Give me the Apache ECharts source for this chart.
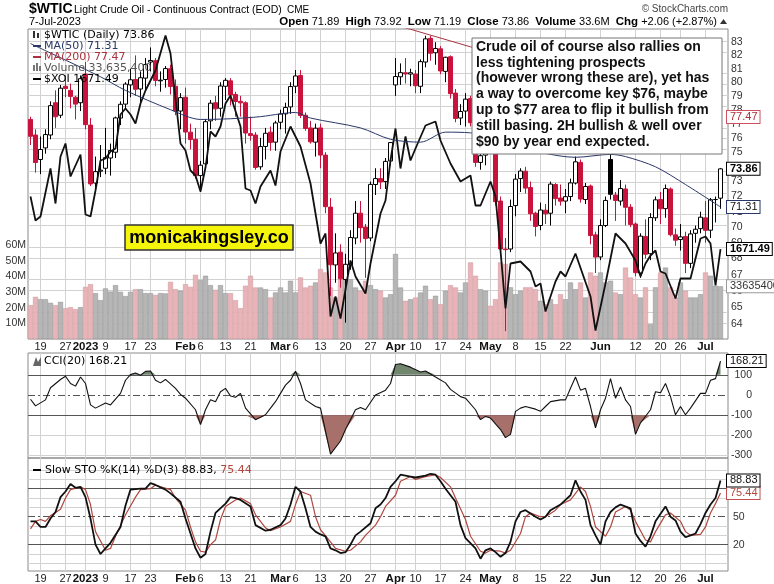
<!DOCTYPE html>
<html><head><meta charset="utf-8">
<script src="https://cdn.jsdelivr.net/npm/echarts/dist/echarts.min.js"></script>
<style>html,body{margin:0;padding:0;background:#fff}#c{width:774px;height:584px}</style>
</head><body><div id="c"></div>
<script>
// ---------------- DATA ----------------
const dates = [
'2022-12-15','2022-12-16','2022-12-19','2022-12-20','2022-12-21','2022-12-22','2022-12-23','2022-12-27','2022-12-28','2022-12-29','2022-12-30',
'2023-01-03','2023-01-04','2023-01-05','2023-01-06','2023-01-09','2023-01-10','2023-01-11','2023-01-12','2023-01-13','2023-01-17','2023-01-18','2023-01-19','2023-01-20','2023-01-23','2023-01-24','2023-01-25','2023-01-26','2023-01-27','2023-01-30','2023-01-31',
'2023-02-01','2023-02-02','2023-02-03','2023-02-06','2023-02-07','2023-02-08','2023-02-09','2023-02-10','2023-02-13','2023-02-14','2023-02-15','2023-02-16','2023-02-17','2023-02-21','2023-02-22','2023-02-23','2023-02-24','2023-02-27','2023-02-28',
'2023-03-01','2023-03-02','2023-03-03','2023-03-06','2023-03-07','2023-03-08','2023-03-09','2023-03-10','2023-03-13','2023-03-14','2023-03-15','2023-03-16','2023-03-17','2023-03-20','2023-03-21','2023-03-22','2023-03-23','2023-03-24','2023-03-27','2023-03-28','2023-03-29','2023-03-30','2023-03-31',
'2023-04-03','2023-04-04','2023-04-05','2023-04-06','2023-04-10','2023-04-11','2023-04-12','2023-04-13','2023-04-14','2023-04-17','2023-04-18','2023-04-19','2023-04-20','2023-04-21','2023-04-24','2023-04-25','2023-04-26','2023-04-27','2023-04-28',
'2023-05-01','2023-05-02','2023-05-03','2023-05-04','2023-05-05','2023-05-08','2023-05-09','2023-05-10','2023-05-11','2023-05-12','2023-05-15','2023-05-16','2023-05-17','2023-05-18','2023-05-19','2023-05-22','2023-05-23','2023-05-24','2023-05-25','2023-05-26','2023-05-30','2023-05-31',
'2023-06-01','2023-06-02','2023-06-05','2023-06-06','2023-06-07','2023-06-08','2023-06-09','2023-06-12','2023-06-13','2023-06-14','2023-06-15','2023-06-16','2023-06-20','2023-06-21','2023-06-22','2023-06-23','2023-06-26','2023-06-27','2023-06-28','2023-06-29','2023-06-30',
'2023-07-03','2023-07-05','2023-07-06','2023-07-07'];

const prevClose0 = 77.28;
const open = [77.3,76.2,74.5,75.3,76.2,78.5,77.6,79.7,79.4,78.9,78.5,
80.6,76.9,72.9,73.7,73.9,74.6,75.0,77.4,78.4,79.8,80.2,79.5,80.3,81.5,81.6,80.1,80.2,81.0,79.7,77.9,
78.9,76.4,75.9,73.4,74.2,77.2,78.5,78.1,79.7,80.1,79.1,78.6,78.5,76.3,76.2,74.0,75.4,76.4,75.7,
77.1,77.7,78.2,79.7,80.5,77.6,76.7,75.7,76.7,74.8,71.3,67.6,68.4,66.7,67.6,69.3,70.9,70.0,69.3,72.8,73.2,73.0,74.4,
79.8,80.4,80.7,80.6,80.6,79.7,81.5,83.3,82.2,82.5,80.8,81.9,79.2,77.4,77.9,78.8,77.1,74.3,74.8,
76.8,75.7,71.7,68.6,68.6,71.4,73.2,73.7,72.6,70.9,70.1,71.1,70.9,72.8,71.9,71.7,72.0,72.9,74.3,71.8,72.7,69.5,
68.1,70.1,74.5,72.1,71.7,72.5,71.3,70.2,67.1,69.4,68.3,70.6,71.8,71.2,72.5,69.5,69.2,69.4,67.7,69.6,69.9,
70.6,69.8,71.8,71.89];
const high = [77.5,76.6,76.1,76.6,78.6,79.4,79.8,80.5,79.9,79.0,80.5,
81.5,77.4,74.7,75.5,76.7,75.6,77.5,78.6,80.0,81.0,82.0,80.8,81.8,82.6,81.8,80.8,81.2,81.3,80.2,79.2,
79.6,77.0,76.7,74.4,77.3,78.7,79.0,80.0,80.3,80.3,79.3,79.0,78.6,77.5,76.4,76.0,76.7,76.8,77.2,
78.0,78.5,80.0,80.9,80.9,77.8,77.2,77.0,77.0,75.0,71.9,69.6,68.9,68.3,69.8,71.7,71.7,70.2,73.0,73.9,73.9,74.6,75.7,
81.8,81.4,81.8,81.0,80.9,81.7,83.5,83.5,83.0,82.7,81.9,82.0,79.5,78.4,79.2,79.0,77.3,75.5,77.0,
77.4,76.0,72.0,69.3,71.8,73.5,73.9,74.0,73.0,71.0,71.6,71.5,73.0,72.9,72.8,72.5,73.2,74.7,74.5,72.9,72.8,69.7,
70.5,72.0,74.9,72.3,73.1,72.8,71.5,70.3,69.6,70.5,70.9,72.0,72.3,72.8,72.6,69.9,70.2,69.7,69.8,70.1,71.0,
71.7,71.9,72.0,73.92];
const low = [75.5,73.6,73.5,74.9,75.9,76.7,77.4,78.9,78.1,77.3,77.9,
76.6,72.7,72.5,73.3,73.5,73.4,74.6,76.9,78.0,78.9,79.0,78.5,79.5,80.8,79.7,79.3,79.6,79.1,77.6,76.6,
75.6,75.2,73.2,72.3,73.8,76.6,77.2,77.5,78.7,78.3,77.5,77.5,75.6,75.8,73.8,73.8,74.5,75.1,75.1,
76.6,76.3,77.7,79.2,77.4,76.5,75.6,74.7,73.9,70.9,65.7,66.5,66.2,64.1,67.3,68.9,69.0,66.8,69.1,72.1,72.5,72.5,74.1,
79.0,79.8,79.9,79.7,79.2,79.2,81.1,81.6,81.3,80.6,80.0,78.8,77.1,76.9,76.8,76.8,74.0,73.8,74.1,
75.3,71.4,68.2,63.6,68.4,70.7,72.3,72.2,70.4,69.4,69.8,70.2,70.1,71.4,71.4,70.9,71.7,72.8,71.6,71.5,68.9,67.1,
67.9,70.0,71.8,70.4,71.4,70.1,70.0,66.9,66.8,68.0,67.9,70.4,70.2,70.6,69.4,68.8,68.5,67.1,67.4,69.0,69.6,
69.0,69.3,70.3,71.19];
const close = [76.11,74.29,75.19,76.23,78.29,77.49,79.56,79.53,78.96,78.40,80.26,
76.93,72.84,73.67,73.77,74.63,75.12,77.41,78.39,79.86,80.18,79.48,80.33,81.31,81.62,80.13,80.15,81.01,79.68,77.90,78.87,
76.41,75.88,73.39,74.11,77.14,78.47,78.06,79.72,80.14,79.06,78.59,78.49,76.34,76.16,73.95,75.39,76.32,75.68,77.05,
77.69,78.16,79.68,80.46,77.58,76.66,75.72,76.68,74.80,71.33,67.61,68.35,66.74,67.64,69.33,70.90,69.96,69.26,72.81,73.20,72.97,74.37,75.67,
80.42,80.71,80.61,80.70,79.74,81.53,83.26,82.16,82.52,80.83,81.86,79.16,77.37,77.87,78.76,77.07,74.30,74.76,76.78,
75.66,71.66,68.60,68.56,71.34,73.16,73.71,72.56,70.87,70.04,71.11,70.86,72.83,71.86,71.69,71.99,72.91,74.34,71.83,72.67,69.46,68.09,
70.10,71.74,72.15,71.74,72.53,71.29,70.17,67.12,69.42,68.27,70.62,71.78,71.19,72.53,69.51,69.16,69.37,67.70,69.56,69.86,70.64,
69.79,71.79,71.80,73.86];
// volume in millions
const volume = [21.6,26.9,25.4,25.4,23.1,21.6,23.7,19.7,20.3,19.0,20.3,
33.3,35.0,29.3,24.8,32.3,30.3,34.4,30.1,27.4,30.1,31.8,31.8,29.3,29.3,28.2,29.3,29.1,36.5,31.8,30.8,
35.0,33.3,41.0,37.6,40.4,34.4,31.4,34.4,29.3,29.3,24.8,19.7,34.0,40.4,32.9,32.9,31.8,26.5,29.7,
32.9,29.7,37.2,29.7,39.3,32.9,34.0,36.1,44.7,42.5,32.9,26.5,38.2,39.3,38.2,32.9,30.8,37.2,34.4,31.8,30.8,26.5,28.6,
54.3,32.9,24.4,25.4,26.5,29.7,34.0,25.4,27.6,22.2,30.8,34.4,32.9,29.7,36.1,48.9,40.4,31.8,30.8,
21.2,25.4,48.9,47.9,33.0,28.6,30.8,33.0,33.0,31.8,24.4,22.2,25.4,22.2,28.6,25.4,36.1,31.8,36.1,26.5,42.5,40.4,
42.5,36.1,37.2,29.7,28.6,45.6,39.3,28.6,26.5,33.0,9.4,33.0,42.5,45.6,33.0,26.5,36.1,30.8,26.5,26.5,28.6,
42.5,40.4,34.0,33.6354];

// overlays (bar index, value)
const ma50Idx = [0,5,14,19,28,34,40,46,50,53,56,66,72,78,83,88,102,109,116,119,125,131,138];
const ma50Val = [82.9,82.0,80.4,79.4,78.0,77.3,77.35,77.5,77.7,77.8,77.4,76.7,75.9,75.7,76.4,76.35,75.0,74.65,74.85,74.7,74.0,72.8,71.31];
const ma200Idx = [70,76,88,138];
const ma200Val = [84.6,84.0,82.65,77.47];
const xoiIdx = [0,1,2,4,5,6,7,8,10,11,12,13,14,15,16,17,18,19,20,21,22,23,25,27,28,30,31,32,33,34,35,36,37,38,39,40,42,43,44,45,46,48,49,50,52,54,56,58,59,60,61,62,64,65,67,68,70,71,72,73,74,75,76,77,79,81,82,84,86,88,89,90,92,93,94,95,96,98,100,101,102,103,105,106,107,109,112,113,115,117,119,121,122,123,124,125,126,127,129,130,132,134,135,136,137,138];
const xoiVal = [1724,1700,1704,1752,1717,1764,1777,1744,1766,1706,1704,1730,1760,1762,1769,1772,1806,1812,1806,1797,1817,1830,1850,1885,1867,1777,1770,1750,1745,1729,1753,1789,1784,1794,1817,1825,1794,1732,1730,1717,1734,1750,1735,1769,1794,1774,1737,1677,1687,1604,1624,1602,1660,1644,1627,1657,1707,1720,1760,1792,1752,1784,1760,1772,1795,1799,1780,1757,1739,1745,1715,1715,1739,1724,1670,1612,1657,1659,1649,1634,1637,1609,1639,1649,1644,1667,1624,1590,1637,1687,1677,1660,1644,1657,1665,1670,1649,1647,1622,1642,1642,1682,1684,1677,1635,1671.49];
const cciIdx = [0,1,3,4,6,7,8,9,10,11,12,13,15,16,18,19,20,21,22,23,24,25,26,27,29,30,31,33,34,35,36,37,38,39,40,41,42,43,45,47,48,49,50,51,52,53,54,55,57,58,60,62,63,65,66,67,69,71,72,73,74,76,78,79,81,83,84,86,87,89,90,91,92,94,95,96,97,98,99,101,102,103,104,106,107,108,109,110,111,112,113,114,115,116,117,118,119,120,121,122,124,125,126,127,128,129,130,131,132,134,135,136,137,138];
const cciVal = [-21,-54,-24,36,77,93,57,44,89,57,-49,-65,-40,-49,8,73,101,109,98,117,119,73,60,77,33,3,-16,-73,-146,-73,-24,-33,16,33,-5,-11,8,-65,-122,-98,-65,-33,8,49,73,118,57,-24,-57,-65,-293,-228,-171,-73,-62,-73,0,24,57,151,155,138,114,119,89,60,28,-8,-16,-73,-122,-106,-114,-171,-211,-195,-81,-65,-57,-70,-81,-57,-33,-24,-24,33,89,24,33,-57,-163,-73,-16,81,-16,40,-24,-57,-195,-138,-73,16,11,57,-8,-98,-57,-98,-65,8,8,73,81,168.21];
const stoKIdx = [0,1,2,3,4,5,6,7,8,9,10,11,12,13,14,15,16,18,19,20,22,23,24,25,27,28,30,31,32,33,34,35,36,37,39,40,41,42,44,45,47,48,50,51,52,53,54,55,56,57,58,59,60,61,62,63,64,65,66,68,69,70,71,72,73,74,76,77,79,80,81,82,83,85,86,87,89,90,91,92,93,94,95,96,97,98,99,101,102,103,104,106,107,108,109,110,111,112,113,114,115,116,117,118,120,121,122,123,124,125,127,128,129,130,131,132,133,134,135,136,137,138];
const stoKVal = [45,45,39,39,48,55,71,77,85,81,82,71,48,20,10,16,22,39,62,79,80,80,86,84,79,75,66,48,32,16,6,10,34,54,64,71,70,68,61,41,35,36,41,48,63,82,77,59,39,34,31,29,16,14,11,12,20,30,34,43,59,63,70,82,88,95,93,92,94,96,95,88,80,66,41,27,16,5,14,16,12,7,11,23,45,55,57,50,47,50,57,63,68,73,89,77,68,41,30,20,45,55,60,63,59,32,24,18,29,45,61,50,46,34,28,30,32,42,54,63,70,88.83];
const stoDIdx = [0,1,2,3,4,6,7,8,10,11,12,13,15,16,17,19,21,22,24,25,26,28,29,31,32,33,34,35,36,37,38,39,41,42,44,45,47,48,50,52,53,54,56,57,58,60,61,63,64,66,67,69,70,71,73,74,76,77,79,81,82,84,85,87,88,90,91,92,94,95,96,98,99,100,102,103,105,106,108,109,110,111,112,113,115,116,117,119,120,121,123,124,125,127,128,130,131,132,134,135,136,137,138];
const stoDVal = [37,45,47,45,51,58,70,79,82,79,63,34,14,16,29,52,71,79,80,84,82,79,70,57,39,23,13,12,20,25,47,61,68,70,64,52,38,35,39,45,63,77,73,50,36,23,16,13,14,23,30,41,50,61,73,88,93,90,93,95,92,82,70,47,29,13,11,14,13,11,14,32,50,54,50,50,57,63,68,75,82,77,61,39,29,39,55,61,57,45,25,23,34,52,54,45,34,30,31,39,54,64,75.44];

// axis ticks
const priceTicks = [64,65,66,67,68,69,70,71,72,73,74,75,76,77,78,79,80,81,82,83];
const volTicks = [10,20,30,40,50,60];
const cciTicks = [100,0,-100,-200,-300];
const stoTicks = [20,50,80];
const tickDates = ['2022-12-19','2022-12-27','2023-01-03','2023-01-09','2023-01-17','2023-01-23','2023-02-01','2023-02-06','2023-02-13','2023-02-21','2023-03-01','2023-03-06','2023-03-13','2023-03-20','2023-03-27','2023-04-03','2023-04-10','2023-04-17','2023-04-24','2023-05-01','2023-05-08','2023-05-15','2023-05-22','2023-06-01','2023-06-12','2023-06-20','2023-06-26','2023-07-03'];
const tickTexts = ['19','27','2023','9','17','23','Feb','6','13','21','Mar','6','13','20','27','Apr','10','17','24','May','8','15','22','Jun','12','20','26','Jul'];
const boldTicks = ['2023','Feb','Mar','Apr','May','Jun','Jul'];

const noteText = 'Crude oil of course also rallies on\nless tightening prospects\n(however wrong these are), yet has\na way to overcome key $76, maybe\nup to $77 area to flip it bullish from\nstill basing. 2H bullish & well over\n$90 by year end expected.';

// ---------------- BUILD ----------------
const N = dates.length;
const last = dates[N - 1];
const cats = dates.concat(['']);
const RED = '#c8143c', BLK = '#000';
const PINK = '#e8b4b8', PINKB = '#cf959b', GRAY = '#b6b6b6', GRAYB = '#8f8f8f';
const NAVY = '#2a3768', MAROON = '#a8323e', DRED = '#b0483f';
const FUI = '"DejaVu Sans", Verdana, sans-serif';
const FAX = '"Liberation Sans", Arial, sans-serif';
const L = Math.log;
const pairs = (idx, val, f) => idx.map((x, k) => [x, f ? f(val[k]) : val[k]]);

const candleData = dates.map((d, i) => {
  const prev = i > 0 ? close[i - 1] : prevClose0;
  const col = close[i] < prev ? RED : BLK;
  const fill = close[i] >= open[i] ? '#fff' : col;
  return { value: [L(open[i]), L(close[i]), L(low[i]), L(high[i])],
    itemStyle: { color: fill, color0: fill, borderColor: col, borderColor0: col, borderWidth: 1 } };
});
const volData = volume.map((v, i) => {
  const prev = i > 0 ? close[i - 1] : prevClose0;
  const dn = close[i] < prev;
  return { value: v * 1e6, itemStyle: { color: dn ? PINK : GRAY, borderColor: dn ? PINKB : GRAYB, borderWidth: 0.5 } };
});

function mkX(gi, show) {
  return { type: 'category', gridIndex: gi, data: cats, boundaryGap: true,
    axisLine: { show: false }, axisTick: { show: false }, splitLine: { show: false },
    axisLabel: { show: show, interval: (i, v) => tickDates.indexOf(v) >= 0, margin: 2, hideOverlap: false,
      fontSize: 11, fontFamily: FAX, color: '#222',
      formatter: v => { const t = tickTexts[tickDates.indexOf(v)]; return boldTicks.indexOf(t) >= 0 ? '{b|' + t + '}' : t; },
      rich: { b: { fontWeight: 'bold', fontSize: 11.5, fontFamily: FAX, color: '#111' } } } };
}
const axLbl = { fontSize: 10.5, fontFamily: FAX, color: '#333' };

function tag(yv, text, border, color, bold) {
  return { coord: [last, yv], symbol: 'circle', symbolSize: 1, itemStyle: { color: 'transparent' },
    label: { show: true, position: 'right', distance: 6, formatter: text, color: color, fontWeight: bold ? 'bold' : 'normal',
      fontSize: 11, fontFamily: FAX, backgroundColor: '#fff', borderColor: border, borderWidth: 1, padding: [1, 2, 0, 3] } };
}
const gridLine = { color: '#d2d2d2', width: 1, type: 'solid' };
const darkLine = { color: '#555', width: 1, type: 'solid' };
const dashDot = { color: '#555', width: 1, type: [7, 3, 2, 3] };
const vLines = () => tickDates.map(d => ({ xAxis: d }));
const mlBase = { z: 1, silent: true, symbol: ['none', 'none'], label: { show: false }, lineStyle: gridLine, animation: false };

const gridBase = { show: true, borderColor: '#8a8a8a', borderWidth: 1, containLabel: false, outerBoundsMode: 'none' };

const option = {
  animation: false,
  backgroundColor: '#fff',
  grid: [
    Object.assign({ left: 28, top: 29, width: 700, height: 310 }, gridBase),
    Object.assign({ left: 28, top: 353, width: 700, height: 105 }, gridBase),
    Object.assign({ left: 28, top: 458, width: 700, height: 113 }, gridBase)
  ],
  xAxis: [mkX(0, true), mkX(1, false), mkX(2, true)],
  yAxis: [
    { type: 'value', gridIndex: 0, position: 'right', min: L(63.14), max: L(84.02), scale: true,
      axisLine: { show: false }, axisTick: { show: false }, splitLine: { show: false },
      axisLabel: Object.assign({ customValues: priceTicks.map(L), margin: 3, formatter: v => String(Math.round(Math.exp(v))) }, axLbl) },
    { type: 'value', gridIndex: 0, position: 'left', min: 0, max: 198e6,
      axisLine: { show: false }, axisTick: { show: false }, splitLine: { show: false },
      axisLabel: Object.assign({ customValues: volTicks.map(v => v * 1e6), margin: 2, formatter: v => Math.round(v / 1e6) + 'M' }, axLbl) },
    { type: 'value', gridIndex: 0, show: false, min: 1581.5, max: 1891.5, splitLine: { show: false } },
    { type: 'value', gridIndex: 1, position: 'right', min: -312, max: 208,
      axisLine: { show: false }, axisTick: { show: false }, splitLine: { show: false },
      axisLabel: Object.assign({ customValues: cciTicks, margin: 24, align: 'right' }, axLbl) },
    { type: 'value', gridIndex: 2, position: 'right', min: -8.2, max: 112.9,
      axisLine: { show: false }, axisTick: { show: false }, splitLine: { show: false },
      axisLabel: Object.assign({ customValues: stoTicks, margin: 5 }, axLbl) }
  ],
  series: [
    { name: 'closeHelper', type: 'line', xAxisIndex: 0, yAxisIndex: 0, z: 1, silent: true, symbol: 'none',
      data: close.map(L), lineStyle: { opacity: 0 },
      markLine: Object.assign({}, mlBase, { data: vLines().concat(priceTicks.map(p => ({ yAxis: L(p) }))) }),
      markPoint: { z: 20, silent: true, data: [tag(L(close[N - 1]), close[N - 1].toFixed(2), '#000', '#000', true)] } },
    { name: 'Volume', type: 'bar', xAxisIndex: 0, yAxisIndex: 1, z: 2, barWidth: 5, data: volData, silent: true,
      markPoint: { z: 20, silent: true, data: [tag(volume[N - 1] * 1e6, String(Math.round(volume[N - 1] * 1e6)), '#999', '#333', false)] } },
    { name: '$WTIC', type: 'candlestick', xAxisIndex: 0, yAxisIndex: 0, z: 3, barWidth: 4, data: candleData, silent: true },
    { name: '$XOI', type: 'line', xAxisIndex: 0, yAxisIndex: 2, z: 4, symbol: 'none', silent: true,
      data: pairs(xoiIdx, xoiVal), lineStyle: { color: '#111', width: 1.8 },
      markPoint: { z: 20, silent: true, data: [tag(xoiVal[xoiVal.length - 1], xoiVal[xoiVal.length - 1].toFixed(2), '#000', '#000', true)] } },
    { name: 'MA50', type: 'line', xAxisIndex: 0, yAxisIndex: 0, z: 5, symbol: 'none', smooth: 0.3, silent: true,
      data: pairs(ma50Idx, ma50Val, L), lineStyle: { color: NAVY, width: 1 },
      markPoint: { z: 20, silent: true, data: [tag(L(ma50Val[ma50Val.length - 1]), ma50Val[ma50Val.length - 1].toFixed(2), NAVY, '#111', false)] } },
    { name: 'MA200', type: 'line', xAxisIndex: 0, yAxisIndex: 0, z: 5, symbol: 'none', silent: true,
      data: pairs(ma200Idx, ma200Val, L), lineStyle: { color: MAROON, width: 1 },
      markPoint: { z: 20, silent: true, data: [tag(L(ma200Val[ma200Val.length - 1]), ma200Val[ma200Val.length - 1].toFixed(2), '#d05060', MAROON, false)] } },
    // CCI
    { name: 'cciUp', type: 'line', xAxisIndex: 1, yAxisIndex: 3, z: 2, symbol: 'none', silent: true,
      data: pairs(cciIdx, cciVal, v => Math.max(v, 100)), lineStyle: { width: 0 },
      areaStyle: { color: '#72866f', opacity: 1, origin: 100 } },
    { name: 'cciDn', type: 'line', xAxisIndex: 1, yAxisIndex: 3, z: 2, symbol: 'none', silent: true,
      data: pairs(cciIdx, cciVal, v => Math.min(v, -100)), lineStyle: { width: 0 },
      areaStyle: { color: '#a8706b', opacity: 1, origin: -100 } },
    { name: 'CCI', type: 'line', xAxisIndex: 1, yAxisIndex: 3, z: 3, symbol: 'none', silent: true,
      data: pairs(cciIdx, cciVal), lineStyle: { color: '#111', width: 1.1 },
      markLine: Object.assign({}, mlBase, { data: vLines().concat([
        { yAxis: -200 }, { yAxis: -300 },
        { yAxis: 100, lineStyle: darkLine }, { yAxis: -100, lineStyle: darkLine }, { yAxis: 0, lineStyle: dashDot }]) }),
      markPoint: { z: 20, silent: true, data: [tag(cciVal[cciVal.length - 1], cciVal[cciVal.length - 1].toFixed(2), '#000', '#111', false)] } },
    // STO
    { name: '%D', type: 'line', xAxisIndex: 2, yAxisIndex: 4, z: 3, symbol: 'none', silent: true,
      data: pairs(stoDIdx, stoDVal), lineStyle: { color: DRED, width: 1.2 },
      markLine: Object.assign({}, mlBase, { data: vLines().concat([
        { yAxis: 0 }, { yAxis: 10 }, { yAxis: 30 }, { yAxis: 40 }, { yAxis: 60 }, { yAxis: 70 }, { yAxis: 90 }, { yAxis: 100 },
        { yAxis: 80, lineStyle: darkLine }, { yAxis: 20, lineStyle: darkLine }, { yAxis: 50, lineStyle: dashDot }]) }),
      markPoint: { z: 20, silent: true, data: [tag(stoDVal[stoDVal.length - 1], stoDVal[stoDVal.length - 1].toFixed(2), '#c05050', DRED, false)] } },
    { name: '%K', type: 'line', xAxisIndex: 2, yAxisIndex: 4, z: 4, symbol: 'none', silent: true,
      data: pairs(stoKIdx, stoKVal), lineStyle: { color: '#111', width: 1.8 },
      markPoint: { z: 20, silent: true, data: [tag(stoKVal[stoKVal.length - 1], stoKVal[stoKVal.length - 1].toFixed(2), '#000', '#111', false)] } }
  ],
  graphic: []
};

// ---------------- TEXT / DECOR ----------------
const G = option.graphic;
function txt(x, y, text, o) {
  o = o || {};
  G.push({ type: 'text', x: x, y: y, z: 100, silent: true, style: Object.assign({
    text: text, fontSize: 11, fontFamily: FUI, fill: '#000',
    align: 'left', verticalAlign: 'middle', textAlign: 'left', textVerticalAlign: 'middle' }, o) });
}
const chg = close[N - 1] - close[N - 2];
const pct = chg / close[N - 2] * 100;
const dd = new Date(last + 'T00:00:00');
const MON = ['Jan','Feb','Mar','Apr','May','Jun','Jul','Aug','Sep','Oct','Nov','Dec'];

txt(29, 9, '$WTIC', { fontFamily: FAX, fontWeight: 'bold', fontSize: 14 });
txt(74, 10, 'Light Crude Oil - Continuous Contract (EOD)', { fontFamily: FAX, fontSize: 10.5 });
txt(287, 10, 'CME', { fontFamily: FAX, fontSize: 10 });
txt(728, 9, '\u00A9 StockCharts.com', { fontFamily: FAX, fontSize: 10, fill: '#444', align: 'right', textAlign: 'right' });
txt(29, 22, dd.getDate() + '-' + MON[dd.getMonth()] + '-' + dd.getFullYear(), { fontFamily: FAX, fontSize: 11 });
txt(717, 22, '{b|Open} ' + open[N - 1].toFixed(2) + '  {b|High} ' + high[N - 1].toFixed(2) + '  {b|Low} ' + low[N - 1].toFixed(2) +
  '  {b|Close} ' + close[N - 1].toFixed(2) + '  {b|Volume} ' + volume[N - 1].toFixed(1) + 'M  {b|Chg} +' + chg.toFixed(2) + ' (+' + pct.toFixed(2) + '%)',
  { fontFamily: FAX, fontSize: 11, align: 'right', textAlign: 'right', rich: { b: { fontWeight: 'bold', fontSize: 11.5, fontFamily: FAX } } });
G.push({ type: 'polygon', z: 100, silent: true, shape: { points: [[720, 24], [727, 24], [723.5, 19]] }, style: { fill: '#333' } });

// main legend
G.push({ type: 'rect', z: 100, silent: true, shape: { x: 33, y: 31, width: 2, height: 7 }, style: { fill: '#333' } });
G.push({ type: 'rect', z: 100, silent: true, shape: { x: 37, y: 33, width: 2, height: 5 }, style: { fill: '#333' } });
txt(44, 35, '$WTIC (Daily) ' + close[N - 1].toFixed(2));
G.push({ type: 'line', z: 100, silent: true, shape: { x1: 33, y1: 46, x2: 41, y2: 46 }, style: { stroke: NAVY, lineWidth: 2 } });
txt(44, 46, 'MA(50) ' + ma50Val[ma50Val.length - 1].toFixed(2), { fill: NAVY });
G.push({ type: 'line', z: 100, silent: true, shape: { x1: 33, y1: 57, x2: 41, y2: 57 }, style: { stroke: MAROON, lineWidth: 2 } });
txt(44, 57, 'MA(200) ' + ma200Val[ma200Val.length - 1].toFixed(2), { fill: MAROON });
[[33, 65, 6], [36, 63, 8], [39, 66, 5]].forEach(b => G.push({ type: 'rect', z: 100, silent: true, shape: { x: b[0], y: b[1], width: 2, height: b[2] }, style: { fill: '#777' } }));
txt(44, 68, 'Volume ' + Math.round(volume[N - 1] * 1e6).toLocaleString('en-US'), { fill: '#555' });
G.push({ type: 'line', z: 100, silent: true, shape: { x1: 33, y1: 79, x2: 41, y2: 79 }, style: { stroke: '#000', lineWidth: 2 } });
txt(44, 79, '$XOI ' + xoiVal[xoiVal.length - 1].toFixed(2));

// CCI legend
G.push({ type: 'polygon', z: 100, silent: true, shape: { points: [[33, 366], [36, 357], [38, 362], [41, 357], [41, 366]] }, style: { fill: '#666' } });
txt(44, 361, 'CCI(20) ' + cciVal[cciVal.length - 1].toFixed(2));
// STO legend
G.push({ type: 'line', z: 100, silent: true, shape: { x1: 33, y1: 470, x2: 41, y2: 470 }, style: { stroke: '#000', lineWidth: 2 } });
txt(45, 470, 'Slow STO %K(14) %D(3) ' + stoKVal[stoKVal.length - 1].toFixed(2) + ', {r|' + stoDVal[stoDVal.length - 1].toFixed(2) + '}',
  { rich: { r: { fill: DRED, color: DRED, fontSize: 11, fontFamily: FUI } } });

// watermark
G.push({ type: 'rect', z: 100, silent: true, shape: { x: 125, y: 225, width: 168, height: 25 }, style: { fill: '#f5f50c', stroke: '#333', lineWidth: 1.5 } });
txt(209, 238, 'monicakingsley.co', { fontFamily: FAX, fontWeight: 'bold', fontSize: 18, align: 'center', textAlign: 'center' });
// annotation box
G.push({ type: 'rect', z: 100, silent: true, shape: { x: 472, y: 38, width: 250, height: 116 }, style: { fill: '#fff', stroke: '#777', lineWidth: 1 } });
G.push({ type: 'text', x: 476, y: 39, z: 101, silent: true, style: { text: noteText, fontFamily: FAX, fontWeight: 'bold', fontSize: 14,
  lineHeight: 15.8, fill: '#111', align: 'left', verticalAlign: 'top', textAlign: 'left', textVerticalAlign: 'top' } });

const chart = echarts.init(document.getElementById('c'), null, { renderer: 'canvas', width: 774, height: 584 });
chart.setOption(option);
</script></body></html>
